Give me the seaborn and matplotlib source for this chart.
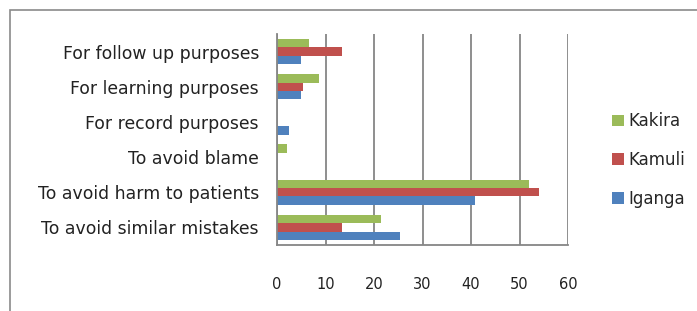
import matplotlib
matplotlib.use("Agg")
import matplotlib.pyplot as plt
import seaborn as sns
import pandas as pd
import numpy as np
from matplotlib.patches import Rectangle

categories = ["For follow up purposes", "For learning purposes", "For record purposes",
              "To avoid blame", "To avoid harm to patients", "To avoid similar mistakes"]
kakira = [6.5, 8.7, 0.0, 2.1, 52.0, 21.5]
kamuli = [13.3, 5.3, 0.0, 0.0, 54.0, 13.3]
iganga = [5.0, 5.0, 2.5, 0.0, 40.9, 25.4]
series = ["Kakira", "Kamuli", "Iganga"]
xticks = [0, 10, 20, 30, 40, 50, 60]

rows = []
for name, vals in zip(series, [kakira, kamuli, iganga]):
    for c, v in zip(categories, vals):
        rows.append({"category": c, "value": v, "site": name})
df = pd.DataFrame(rows)

sns.set_style("white")
plt.rcParams['font.family'] = ['DejaVu Sans']

fig = plt.figure(figsize=(6.97, 3.11), dpi=100)
ax = fig.add_axes([277/697, 1-245/311, (568-277)/697, (245-34)/311])

palette = {"Kakira": "#9BBB59", "Kamuli": "#C0504D", "Iganga": "#4F81BD"}
sns.barplot(data=df, y="category", x="value", hue="site", hue_order=series,
            order=categories, palette=palette, orient="h", ax=ax,
            width=0.72, saturation=1, edgecolor="none", errorbar=None)

ax.set_xlim(0, 60)
ax.set_ylim(len(categories)-0.5, -0.5)
ax.set_xticks(xticks)
ax.set_xticklabels([str(t) for t in xticks], fontsize=10.5, color="#222222")
ax.set_xlabel("")
ax.set_ylabel("")
ax.tick_params(axis="y", length=0, pad=13, labelsize=12.4, labelcolor="#222222")
ax.set_yticks(range(len(categories)))
ax.set_yticklabels(categories)
ax.set_yticks(np.arange(-0.5, len(categories), 1), minor=True)
ax.tick_params(axis="y", which="minor", length=4, width=1.2, color="#868686", direction="out")
ax.tick_params(axis="x", length=4, width=1.2, color="#868686", direction="out", pad=19)

ax.grid(axis="x", color="#868686", linewidth=1.3)
ax.set_axisbelow(True)
for s in ["top", "right"]:
    ax.spines[s].set_visible(False)
for s in ["left", "bottom"]:
    ax.spines[s].set_color("#868686")
    ax.spines[s].set_linewidth(1.3)

ax.legend(loc="center left", bbox_to_anchor=(597/697, 0.485), bbox_transform=fig.transFigure,
          frameon=False, fontsize=12, handlelength=0.7, handleheight=0.7,
          handletextpad=0.3, labelspacing=1.25)

fig.patches.append(Rectangle((10/697, -0.1), 1.2, 1-10/311+0.1, transform=fig.transFigure,
                             fill=False, edgecolor="#8a8a8a", linewidth=1.2))

fig.savefig("out.png", dpi=100)
